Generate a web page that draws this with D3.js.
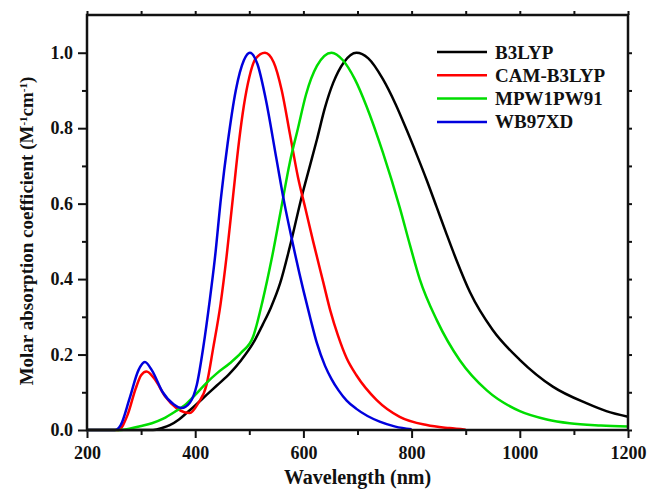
<!DOCTYPE html>
<html>

<head>
  <title>Molar absorption spectra</title>
  <script src="https://d3js.org/d3.v7.min.js"></script>
  <style>
    body {
      margin: 0;
      background-color: #ffffff;
    }

    .chart text {
      font-family: "Times New Roman", "Liberation Serif", serif;
      font-weight: bold;
      fill: #111;
    }
  </style>
</head>

<body>
  <div class="chart"></div>
  <script>
    // data: [wavelength (nm), normalised absorption]
    const seriesNames = ["B3LYP", "CAM-B3LYP", "MPW1PW91", "WB97XD"];
    const seriesColors = ["#000000", "#ff0000", "#00dd00", "#0000dd"];

    const b3lyp = [
      [200, 0], [322, 0], [340, 0.006], [353, 0.013], [370, 0.028], [384, 0.045], [400, 0.065],
      [421, 0.093], [440, 0.118], [464, 0.15], [485, 0.185], [507, 0.23], [525, 0.28], [540, 0.325],
      [557, 0.389], [575, 0.486], [597, 0.619], [612, 0.70], [625, 0.77], [640, 0.855], [655, 0.92],
      [675, 0.975], [698, 1.0], [720, 0.985], [747, 0.93], [770, 0.865], [791, 0.795], [810, 0.728],
      [828, 0.662], [846, 0.592], [865, 0.518], [883, 0.45], [908, 0.365], [950, 0.265], [1000, 0.186],
      [1061, 0.115], [1123, 0.071], [1160, 0.05], [1200, 0.035]
    ];

    const camB3lyp = [
      [200, 0], [258, 0], [275, 0.04], [290, 0.11], [300, 0.145], [310, 0.155], [325, 0.135],
      [345, 0.088], [365, 0.058], [380, 0.047], [390, 0.045], [405, 0.07], [421, 0.12], [433, 0.215],
      [447, 0.335], [458, 0.46], [470, 0.62], [481, 0.765], [490, 0.86], [500, 0.935], [512, 0.985],
      [529, 1.0], [545, 0.975], [560, 0.9], [575, 0.785], [590, 0.67], [604, 0.585], [618, 0.5],
      [637, 0.39], [650, 0.315], [664, 0.25], [680, 0.19], [698, 0.145], [735, 0.08], [778, 0.035],
      [828, 0.013], [870, 0.005], [900, 0.001]
    ];

    const mpw1pw91 = [
      [200, 0], [262, 0], [280, 0.004], [298, 0.01], [320, 0.018], [341, 0.03], [362, 0.048],
      [384, 0.07], [400, 0.093], [421, 0.125], [440, 0.15], [464, 0.177], [485, 0.205], [507, 0.247],
      [525, 0.345], [541, 0.451], [558, 0.58], [575, 0.71], [590, 0.8], [605, 0.89], [625, 0.965],
      [652, 1.0], [673, 0.98], [695, 0.93], [717, 0.857], [747, 0.735], [778, 0.59], [797, 0.49],
      [815, 0.4], [847, 0.29], [889, 0.185], [939, 0.105], [1000, 0.05], [1050, 0.028], [1092, 0.018],
      [1150, 0.012], [1200, 0.009]
    ];

    const wb97xd = [
      [200, 0], [252, 0], [262, 0.012], [279, 0.085], [295, 0.158], [307, 0.18], [320, 0.158],
      [340, 0.1], [360, 0.068], [375, 0.058], [390, 0.072], [403, 0.12], [415, 0.22], [427, 0.345],
      [436, 0.45], [448, 0.62], [460, 0.76], [475, 0.9], [490, 0.98], [501, 1.0], [515, 0.97],
      [530, 0.88], [550, 0.72], [565, 0.6], [578, 0.51], [600, 0.37], [613, 0.295], [625, 0.23],
      [640, 0.17], [652, 0.135], [665, 0.105], [680, 0.078], [698, 0.056], [741, 0.022], [770, 0.009],
      [800, 0.002]
    ];

    const seriesData = [b3lyp, camB3lyp, mpw1pw91, wb97xd];

    const xMajor = [200, 400, 600, 800, 1000, 1200];
    const xMinor = [300, 500, 700, 900, 1100];
    const yMajor = [0, 0.2, 0.4, 0.6, 0.8, 1.0];
    const yMinor = [0.1, 0.3, 0.5, 0.7, 0.9];

    const width = 651;
    const height = 495;
    const plot = { left: 87, right: 628, top: 15, bottom: 430 };

    const svg = d3
      .select(".chart")
      .append("svg")
      .attr("width", width)
      .attr("height", height);

    const x = d3.scaleLinear().domain([200, 1200]).range([plot.left, plot.right]);
    const y = d3.scaleLinear().domain([0, 1.1]).range([plot.bottom, plot.top]);

    // helper to draw one axis and style it
    function drawAxis(axis, tx, ty, labelSize) {
      const g = svg.append("g")
        .attr("transform", `translate(${tx},${ty})`)
        .call(axis);
      g.select(".domain").remove();
      g.selectAll(".tick line").attr("stroke", "#111").attr("stroke-width", 2);
      g.selectAll(".tick text").style("font-size", labelSize);
      return g;
    }

    // bottom axis
    drawAxis(d3.axisBottom(x).tickValues(xMajor).tickSize(8).tickPadding(8).tickFormat(d3.format("d")), 0, plot.bottom, "18px");
    drawAxis(d3.axisBottom(x).tickValues(xMinor).tickSize(5).tickFormat(""), 0, plot.bottom);
    // top axis (mirror)
    drawAxis(d3.axisTop(x).tickValues(xMajor.concat(xMinor)).tickSize(4).tickFormat(""), 0, plot.top);

    // left axis
    drawAxis(d3.axisLeft(y).tickValues(yMajor).tickSize(9).tickPadding(5).tickFormat(d3.format(".1f")), plot.left, 0, "18px");
    drawAxis(d3.axisLeft(y).tickValues(yMinor).tickSize(5).tickFormat(""), plot.left, 0);
    // right axis (mirror)
    drawAxis(d3.axisRight(y).tickValues(yMajor.concat(yMinor)).tickSize(4).tickFormat(""), plot.right, 0);

    // curves
    const line = d3.line()
      .x((d) => x(d[0]))
      .y((d) => y(d[1]))
      .curve(d3.curveMonotoneX);

    svg.append("g")
      .selectAll("path")
      .data(seriesData)
      .join("path")
      .attr("d", line)
      .attr("fill", "none")
      .attr("stroke", (d, i) => seriesColors[i])
      .attr("stroke-width", 2.5)
      .attr("stroke-linejoin", "round");

    // frame
    svg.append("rect")
      .attr("x", plot.left)
      .attr("y", plot.top)
      .attr("width", plot.right - plot.left)
      .attr("height", plot.bottom - plot.top)
      .attr("fill", "none")
      .attr("stroke", "#111")
      .attr("stroke-width", 2.5);

    // legend
    const legend = svg.append("g")
      .selectAll("g")
      .data(seriesNames)
      .join("g")
      .attr("transform", (d, i) => `translate(437,${52 + i * 23.3})`);

    legend.append("line")
      .attr("x1", 0)
      .attr("x2", 50)
      .attr("stroke", (d, i) => seriesColors[i])
      .attr("stroke-width", 2.5);

    legend.append("text")
      .attr("x", 58)
      .attr("y", 6.5)
      .style("font-size", "19px")
      .text((d) => d);

    // axis titles
    svg.append("text")
      .attr("x", (plot.left + plot.right) / 2)
      .attr("y", 484)
      .attr("text-anchor", "middle")
      .style("font-size", "20px")
      .text("Wavelength (nm)");

    const yTitle = svg.append("text")
      .attr("transform", "translate(33,231) rotate(-90)")
      .attr("text-anchor", "middle")
      .style("font-size", "19px");
    yTitle.append("tspan").text("Molar absorption coefficient (M");
    yTitle.append("tspan").attr("baseline-shift", "super").style("font-size", "11px").text("-1");
    yTitle.append("tspan").text("cm");
    yTitle.append("tspan").attr("baseline-shift", "super").style("font-size", "11px").text("-1");
    yTitle.append("tspan").text(")");
  </script>
</body>

</html>
